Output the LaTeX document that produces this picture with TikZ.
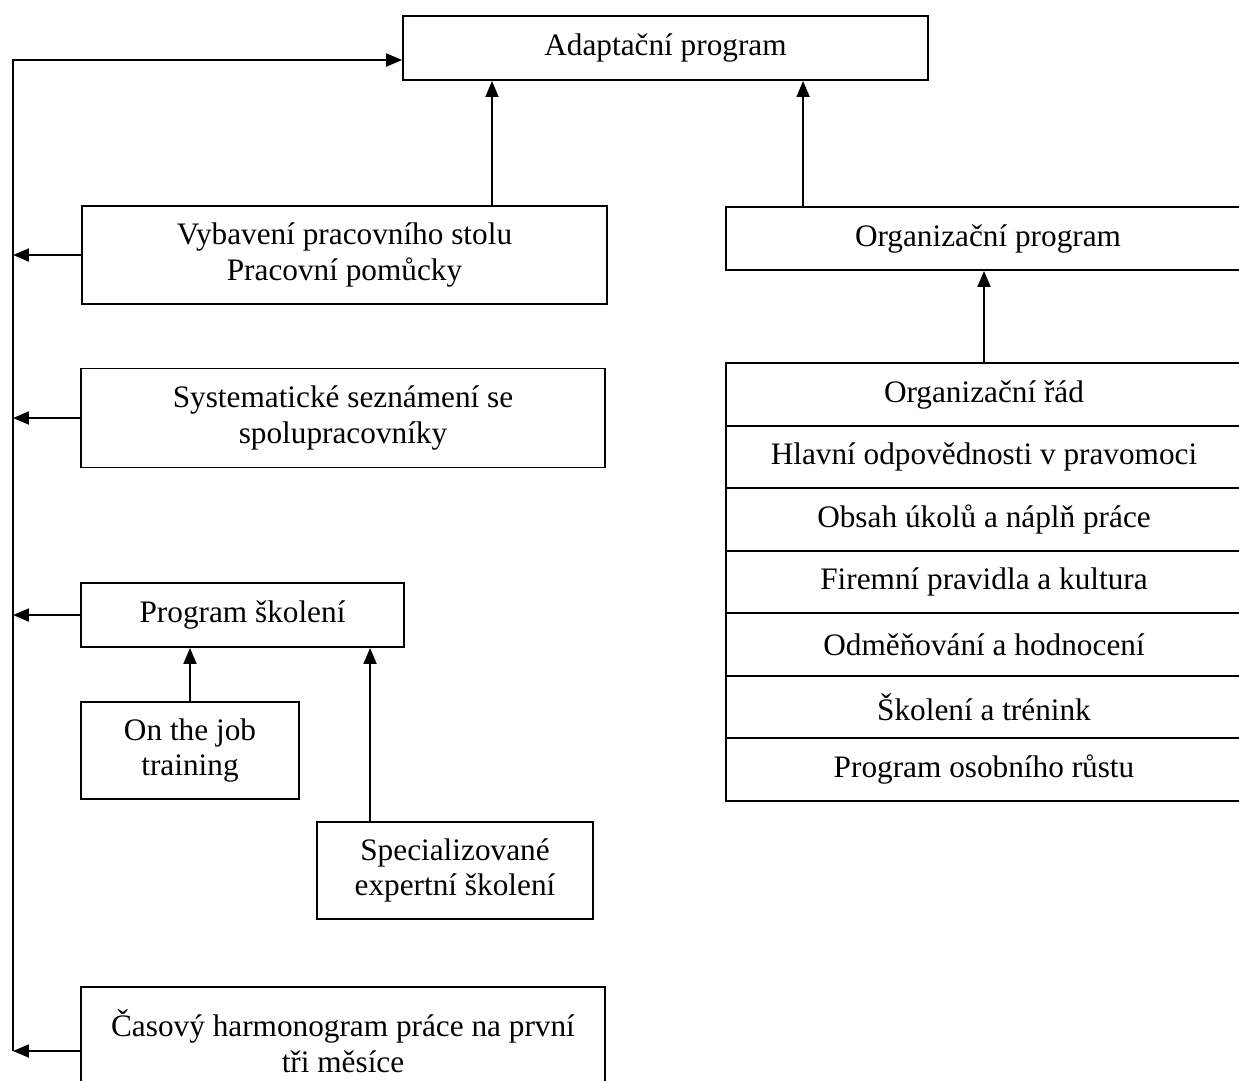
\documentclass[tikz,border=0pt]{standalone}
\usepackage{fontspec}
\setmainfont{Liberation Serif}
\usetikzlibrary{arrows.meta,positioning}
\tikzset{
  box/.style={draw, line width=1.1pt, align=center, inner sep=0pt,
    font=\fontsize{17.8}{20.3}\selectfont},
  row/.style={box, outer sep=0pt, minimum width=10.32cm, minimum height=1.25cm},
  arr/.style={-{Triangle[length=0.32cm,width=0.26cm]}, line width=1.1pt},
}
\begin{document}
\begin{tikzpicture}[x=0.02cm,y=-0.02cm]
\useasboundingbox (0,0) rectangle (1239,1080);

\node[box, minimum width=10.5cm, minimum height=1.28cm] (adapt) at (665.5,48) {Adaptační program};
\node[box, minimum width=10.5cm, minimum height=1.96cm] (vybav) at (344.5,255) {Vybavení pracovního stolu\\Pracovní pomůcky};
\node[box, minimum width=10.48cm, minimum height=1.98cm] (syst) at (343,418) {Systematické seznámení se\\spolupracovníky};
\node[box, minimum width=6.46cm, minimum height=1.28cm] (skol) at (242.5,615) {Program školení};
\node[box, minimum width=4.36cm, minimum height=1.94cm] (job) at (190,750.5) {On the job\\training};
\node[box, minimum width=5.52cm, minimum height=1.94cm] (spec) at (455,870.5) {Specializované\\expertní školení};
\node[box, minimum width=10.48cm, minimum height=2.16cm] (cas) at (343,1041) {Časový harmonogram práce na první\\tři měsíce};
\node[box, minimum width=10.48cm, minimum height=1.26cm] (org) at (988,238.5) {Organizační program};

\node[row] (r1) at (984,394.5) {Organizační řád};
\node[row, below=0pt of r1] (r2) {Hlavní odpovědnosti v pravomoci};
\node[row, below=0pt of r2] (r3) {Obsah úkolů a náplň práce};
\node[row, below=0pt of r3] (r4) {Firemní pravidla a kultura};
\node[row, below=0pt of r4] (r5) {Odměňování a hodnocení};
\node[row, below=0pt of r5] (r6) {Školení a trénink};
\node[row, below=0pt of r6] (r7) {Program osobního růstu};

\coordinate (railtop) at (13,60);
\coordinate (railbot) at (13,1051);

\draw[arr] (railbot) -- (railtop) -- (railtop -| adapt.west);
\draw[arr] (vybav.west) -- (vybav.west -| railtop);
\draw[arr] (syst.west) -- (syst.west -| railtop);
\draw[arr] (skol.west) -- (skol.west -| railtop);
\draw[arr] (cas.west |- railbot) -- (railbot);

\draw[arr] ([xshift=8.22cm]vybav.north west) -- ([xshift=8.22cm]vybav.north west |- adapt.south);
\draw[arr] ([xshift=1.56cm]org.north west) -- ([xshift=1.56cm]org.north west |- adapt.south);
\draw[arr] (r1.north) -- (r1.north |- org.south);
\draw[arr] (job.north) -- (job.north |- skol.south);
\draw[arr] ([xshift=1.08cm]spec.north west) -- ([xshift=1.08cm]spec.north west |- skol.south);
\end{tikzpicture}
\end{document}
